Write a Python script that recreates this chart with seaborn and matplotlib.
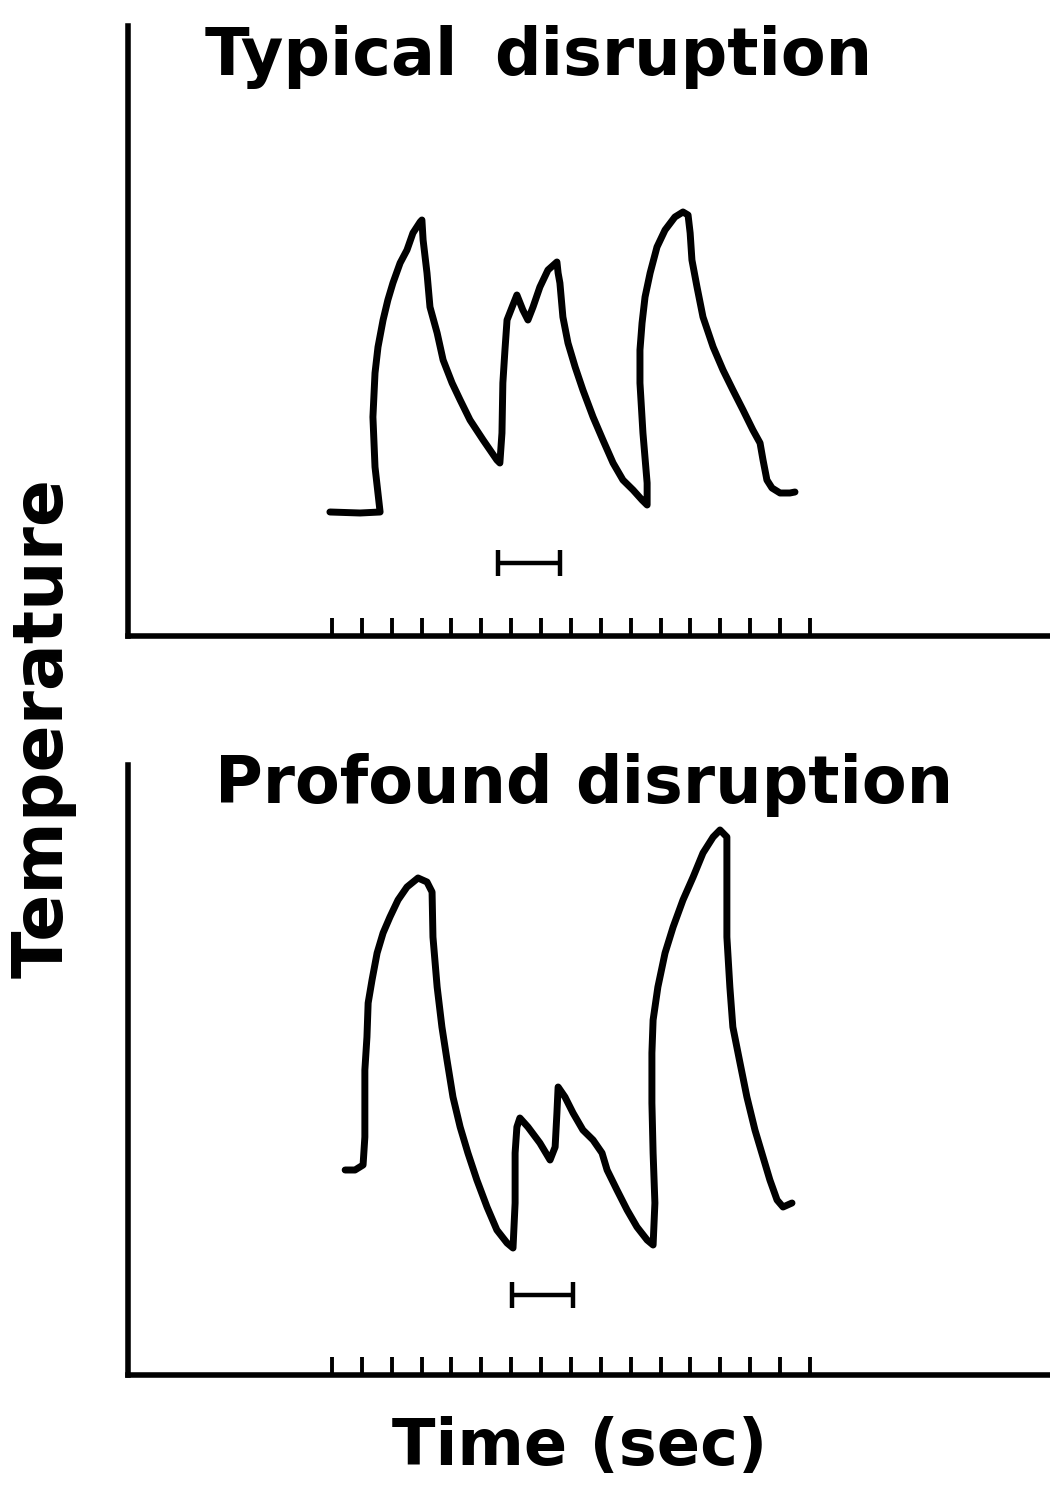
import matplotlib
matplotlib.use("Agg")
import matplotlib.pyplot as plt
import seaborn as sns
import pandas as pd

# Recorded temperature traces (time in s, temperature in arbitrary units)
time_typical = [-0.07, 0.94, 1.61,
                1.44, 1.37, 1.44, 1.54, 1.71, 1.87, 2.04, 2.28, 2.51, 2.71, 2.95, 3.01,
                3.05, 3.18, 3.28, 3.52, 3.72, 4.02, 4.29, 4.62, 5.06, 5.52, 5.62,
                5.69, 5.72, 5.79, 5.86, 6.03, 6.19, 6.39, 6.56, 6.73, 6.96, 7.23, 7.53,
                7.57, 7.63, 7.73, 7.90, 8.14, 8.40, 8.74, 9.07, 9.41, 9.74, 10.08, 10.38, 10.55,
                10.55, 10.41, 10.31, 10.31, 10.38, 10.48, 10.65, 10.88, 11.15, 11.48, 11.75, 11.92,
                11.99, 12.05, 12.22, 12.42, 12.76, 13.09, 13.42, 13.76, 14.09, 14.33, 14.43,
                14.56, 14.73, 15.00, 15.33, 15.50]
temp_typical = [12.4, 12.3, 12.4,
                16.9, 21.9, 26.3, 28.9, 31.6, 33.6, 35.3, 37.3, 38.6, 40.3, 41.4, 41.6,
                39.6, 36.3, 32.9, 30.3, 27.6, 25.3, 23.6, 21.6, 19.6, 17.6, 17.3,
                20.3, 25.3, 28.6, 31.6, 32.9, 34.1, 32.6, 31.6, 32.9, 34.9, 36.6, 37.4,
                36.3, 35.3, 31.9, 29.3, 26.9, 24.6, 21.9, 19.6, 17.3, 15.6, 14.6, 13.6, 13.1,
                15.3, 20.3, 25.3, 28.6, 31.3, 33.9, 36.3, 38.9, 40.6, 41.9, 42.4, 42.1,
                40.3, 37.6, 34.9, 31.9, 28.9, 26.6, 24.6, 22.6, 20.6, 19.3, 17.6,
                15.6, 14.8, 14.3, 14.3, 14.4]

time_profound = [0.44, 0.77, 1.04,
                 1.10, 1.10, 1.10, 1.17, 1.21, 1.34, 1.51, 1.71, 1.94, 2.21, 2.51, 2.88, 3.18, 3.35,
                 3.38, 3.52, 3.68, 3.85, 4.05, 4.29, 4.55, 4.85, 5.19, 5.52, 5.86, 6.06,
                 6.13, 6.13, 6.19, 6.29, 6.56, 6.96, 7.30, 7.47, 7.53, 7.57, 7.80, 8.07, 8.40,
                 8.74, 9.04, 9.21, 9.54, 9.88, 10.21, 10.55, 10.75,
                 10.81, 10.75, 10.71, 10.71, 10.75, 10.91, 11.15, 11.42, 11.75, 12.09, 12.42,
                 12.76, 12.99, 13.22,
                 13.22, 13.22, 13.32, 13.42, 13.66, 13.89, 14.16, 14.43, 14.66, 14.90, 15.10, 15.40]
temp_profound = [20.5, 20.5, 21.0,
                 23.8, 27.2, 30.5, 33.8, 37.2, 39.5, 42.2, 44.2, 45.8, 47.5, 48.8, 49.7, 49.3, 48.3,
                 43.8, 38.8, 34.8, 31.5, 27.8, 24.8, 22.2, 19.5, 16.8, 14.5, 13.2, 12.7,
                 17.2, 22.2, 24.8, 25.7, 24.8, 23.2, 21.5, 22.8, 26.2, 28.8, 27.8, 26.2, 24.5,
                 23.5, 22.2, 20.5, 18.5, 16.5, 14.8, 13.5, 13.0,
                 17.2, 22.2, 27.2, 32.2, 35.5, 38.8, 42.2, 44.8, 47.5, 49.8, 52.2,
                 53.8, 54.5, 53.8,
                 48.8, 43.8, 38.8, 34.8, 31.2, 27.8, 24.5, 21.8, 19.5, 17.5, 16.8, 17.2]

# Stimulus period markers (start, end, drawn level)
stim_typical = (5.56, 7.63, 7.3)
stim_profound = (6.03, 8.07, 8.0)

tick_seconds = list(range(17))
panel_titles = [("Typical", "disruption"), ("Profound", "disruption")]
x_label = "Time (sec)"
y_label = "Temperature"

sns.set_theme(style="white")
plt.rcParams["font.family"] = ["DejaVu Sans"]
plt.rcParams["font.weight"] = "bold"

W, H = 1050, 1485
fig = plt.figure(figsize=(W / 100, H / 100), dpi=100)
fig.patch.set_facecolor("white")


def fx(px):
    return px / W


def fy(py):
    return 1 - py / H


ax_left = fx(128)
ax_w = 1 - ax_left
ax_h = (1375 - 765) / H
ax_top = fig.add_axes([ax_left, fy(636), ax_w, ax_h])
ax_bot = fig.add_axes([ax_left, fy(1375), ax_w, ax_h])

traces = [(ax_top, time_typical, temp_typical, stim_typical),
          (ax_bot, time_profound, temp_profound, stim_profound)]

for ax, t, temp, stim in traces:
    df = pd.DataFrame({"time": t, "temp": temp})
    sns.lineplot(data=df, x="time", y="temp", ax=ax, sort=False, estimator=None,
                 color="black", linewidth=5.0, solid_joinstyle="round",
                 solid_capstyle="round")
    start, end, level = stim
    ax.errorbar([(start + end) / 2], [level], xerr=[(end - start) / 2], fmt="none",
                ecolor="black", elinewidth=3.2, capsize=9.5, capthick=3.2)

    ax.set_xlim((128 - 332) / 29.87, (1050 - 332) / 29.87)
    ax.set_ylim(0, 61)
    ax.set_xticks(tick_seconds)
    ax.set_xticklabels([])
    ax.set_yticks([])
    ax.tick_params(axis="x", direction="in", length=13, width=2.8, color="black",
                   bottom=True)
    for side in ["top", "right"]:
        ax.spines[side].set_visible(False)
    for side in ["left", "bottom"]:
        ax.spines[side].set_visible(True)
        ax.spines[side].set_color("black")
        ax.spines[side].set_linewidth(4.0)
    ax.set_xlabel("")
    ax.set_ylabel("")
    ax.patch.set_alpha(0)

# Panel titles: first word from the left edge, second word ending at the right edge
title_pos = [(205, 872, 75), (215, 953, 803)]
for (w1, w2), (xl, xr, yb) in zip(panel_titles, title_pos):
    fig.text(fx(xl), fy(yb), w1, ha="left", va="baseline",
             fontsize=47, fontweight="bold", color="black")
    fig.text(fx(xr), fy(yb), w2, ha="right", va="baseline",
             fontsize=47, fontweight="bold", color="black")

fig.text(fx(580), fy(1465), x_label, ha="center", va="baseline",
         fontsize=46, fontweight="bold", color="black")
fig.text(fx(43), fy(728), y_label, ha="center", va="center", rotation=90,
         fontsize=50, fontweight="bold", color="black")

fig.savefig("out.png", dpi=100, facecolor="white")
